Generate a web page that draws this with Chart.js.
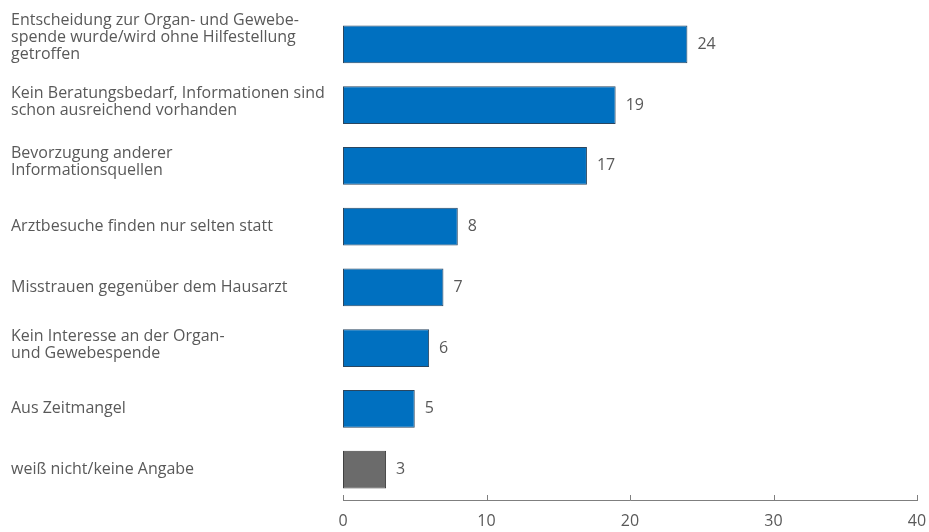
<!DOCTYPE html>
<html>
<head>
<meta charset="utf-8">
<script src="https://cdn.jsdelivr.net/npm/chart.js@4"></script>
<style>
html,body{margin:0;padding:0;background:#fff;}
#wrap{width:929px;height:532px;position:relative;}
</style>
</head>
<body>
<div id="wrap"><canvas id="c" width="929" height="532"></canvas></div>
<script>
const categories = [
  ["Entscheidung zur Organ- und Gewebe-", "spende wurde/wird ohne Hilfestellung", "getroffen"],
  ["Kein Beratungsbedarf, Informationen sind", "schon ausreichend vorhanden"],
  ["Bevorzugung anderer", "Informationsquellen"],
  ["Arztbesuche finden nur selten statt"],
  ["Misstrauen gegenüber dem Hausarzt"],
  ["Kein Interesse an der Organ-", "und Gewebespende"],
  ["Aus Zeitmangel"],
  ["weiß nicht/keine Angabe"]
];
const values = [24, 19, 17, 8, 7, 6, 5, 3];
const xTicks = [0, 10, 20, 30, 40];

const TEXT = '#595959';
const FONT = '"Open Sans", sans-serif';
const FS = 16;
const fills = values.map((v, i) => i === values.length - 1 ? '#6b6b6b' : '#0070C0');
const borders = values.map((v, i) => i === values.length - 1 ? '#404040' : '#2a4660');
const blockShift = { 1: 0, 2: -3.5, 3: -7 };

const labelPlugin = {
  id: 'labels',
  afterDatasetsDraw(chart) {
    const ctx = chart.ctx;
    const y = chart.scales.y;
    const meta = chart.getDatasetMeta(0);
    ctx.save();
    ctx.font = FS + 'px ' + FONT;
    ctx.fillStyle = TEXT;
    ctx.textBaseline = 'middle';
    ctx.textAlign = 'left';
    const lh = 17;
    categories.forEach((lines, i) => {
      const cy = y.getPixelForValue(i);
      const n = lines.length;
      const center = cy + (blockShift[n] || 0);
      const top = center - (n - 1) * lh / 2;
      lines.forEach((t, k) => ctx.fillText(t, 11, top + k * lh));
    });
    meta.data.forEach((bar, i) => {
      ctx.fillText(String(values[i]), bar.x + 10, bar.y);
    });
    const xs = chart.scales.x;
    const bottom = chart.chartArea.bottom;
    ctx.strokeStyle = '#7f7f7f';
    ctx.lineWidth = 1;
    ctx.beginPath();
    ctx.moveTo(xs.getPixelForValue(0), bottom + 0.5);
    ctx.lineTo(xs.getPixelForValue(40) + 1, bottom + 0.5);
    xTicks.forEach(t => {
      const px = Math.round(xs.getPixelForValue(t)) + 0.5;
      ctx.moveTo(px, bottom + 0.5);
      ctx.lineTo(px, bottom - 5);
    });
    ctx.stroke();
    ctx.restore();
  }
};

new Chart(document.getElementById('c'), {
  type: 'bar',
  data: {
    labels: categories.map(l => l.join(' ')),
    datasets: [{
      data: values,
      backgroundColor: fills,
      borderColor: borders,
      borderWidth: 1,
      borderSkipped: false,
      categoryPercentage: 1,
      barPercentage: 0.625
    }]
  },
  options: {
    indexAxis: 'y',
    responsive: false,
    animation: false,
    events: [],
    layout: { padding: { left: 11, right: 12, top: 14, bottom: 0 } },
    plugins: { legend: { display: false }, tooltip: { enabled: false } },
    scales: {
      x: {
        min: 0, max: 40,
        afterBuildTicks(s) { s.ticks = xTicks.map(v => ({ value: v })); },
        afterFit(s) { s.height = 32; s.paddingRight = 0; s.paddingLeft = 0; },
        grid: { display: false, drawTicks: false },
        border: { display: false },
        ticks: { color: TEXT, font: { family: FONT, size: FS }, padding: 12, maxRotation: 0 }
      },
      y: {
        grid: { display: false, drawTicks: false },
        border: { display: false },
        ticks: { display: false },
        afterFit(s) { s.width = 332; }
      }
    }
  },
  plugins: [labelPlugin]
});
</script>
</body>
</html>
